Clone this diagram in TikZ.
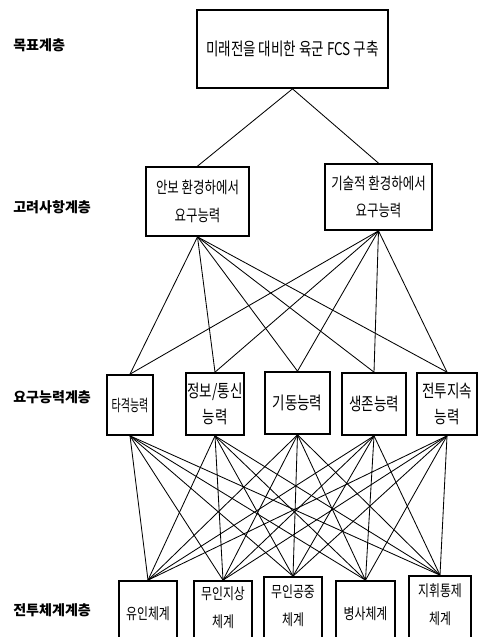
\documentclass[tikz,border=0pt]{standalone}
\usepackage{fontspec}
\setmainfont{Noto Sans CJK KR}[FakeStretch=0.77]
\newfontfamily\lblfont{Noto Sans CJK KR}
\newfontfamily\narrowfont{Noto Sans CJK KR}[FakeStretch=0.62]
\usetikzlibrary{calc}
\tikzstyle{box} = [draw=black, line width=1.2pt, align=center, inner sep=1pt, font=\fontsize{11.5pt}{19.5pt}\selectfont]
\tikzstyle{captxt} = [font=\fontsize{12.5pt}{18.5pt}\selectfont]
\tikzstyle{systxt} = [font=\fontsize{11pt}{19.5pt}\selectfont]
\tikzstyle{lbl} = [anchor=west, inner sep=0pt, font=\lblfont\bfseries\fontsize{10pt}{12pt}\selectfont]
\tikzstyle{link} = [line width=0.6pt]

\begin{document}
\begin{tikzpicture}[x=0.025cm, y=-0.025cm]
\useasboundingbox (0,0) rectangle (482,637);
%levels
\draw (13,45) node (lv1) [lbl] {목표계층};
\draw (13,207) node (lv2) [lbl] {고려사항계층};
\draw (13,397) node (lv3) [lbl] {요구능력계층};
\draw (13,610) node (lv4) [lbl] {전투체계계층};
%goal
\draw (292.5,49) node (goal) [box, font=\fontsize{12.5pt}{14pt}\selectfont, minimum width=4.775cm, minimum height=1.95cm] {미래전을 대비한 육군 FCS 구축};
%considerations
\draw (197.5,201.5) node (c1) [box, minimum width=2.575cm, minimum height=1.725cm] {안보 환경하에서\\요구능력};
\draw (378.5,197) node (c2) [box, minimum width=2.675cm, minimum height=1.65cm] {기술적 환경하에서\\요구능력};
%required capabilities
\draw (130,405) node (r1) [box, font=\narrowfont\fontsize{11.5pt}{14pt}\selectfont, minimum width=1.15cm, minimum height=1.5cm] {타격능력};
\draw (215,404) node (r2) [box, captxt, minimum width=1.35cm, minimum height=1.55cm] {정보/통신\\능력};
\draw (297.5,403) node (r3) [box, captxt, minimum width=1.625cm, minimum height=1.55cm] {기동능력};
\draw (374,404) node (r4) [box, captxt, minimum width=1.6cm, minimum height=1.55cm] {생존능력};
\draw (447,404) node (r5) [box, captxt, minimum width=1.5cm, minimum height=1.55cm] {전투지속\\능력};
%combat systems (cut at the bottom)
\draw (148,614) node (s1) [box, systxt, minimum width=1.45cm, minimum height=1.65cm] {유인체계};
\draw (223,614) node (s2) [box, systxt, text depth=10pt, minimum width=1.45cm, minimum height=1.65cm] {무인지상\\체계};
\draw (293,612) node (s3) [box, systxt, text depth=10pt, minimum width=1.45cm, minimum height=1.75cm] {무인공중\\체계};
\draw (365.5,614) node (s4) [box, systxt, minimum width=1.475cm, minimum height=1.65cm] {병사체계};
\draw (440,611) node (s5) [box, systxt, text depth=10pt, minimum width=1.55cm, minimum height=1.75cm] {지휘통제\\체계};
%links
\draw[link] (goal.south) -- (c1.north);
\draw[link] (goal.south) -- (c2.north);
\foreach \c in {c1,c2}
  \foreach \r in {r1,r2,r3,r4,r5}
    \draw[link] (\c.south) -- (\r.north);
\foreach \r in {r1,r2,r3,r4,r5}
  \foreach \s in {s1,s2,s3,s4,s5}
    \draw[link] (\r.south) -- (\s.north);
\end{tikzpicture}
\end{document}
